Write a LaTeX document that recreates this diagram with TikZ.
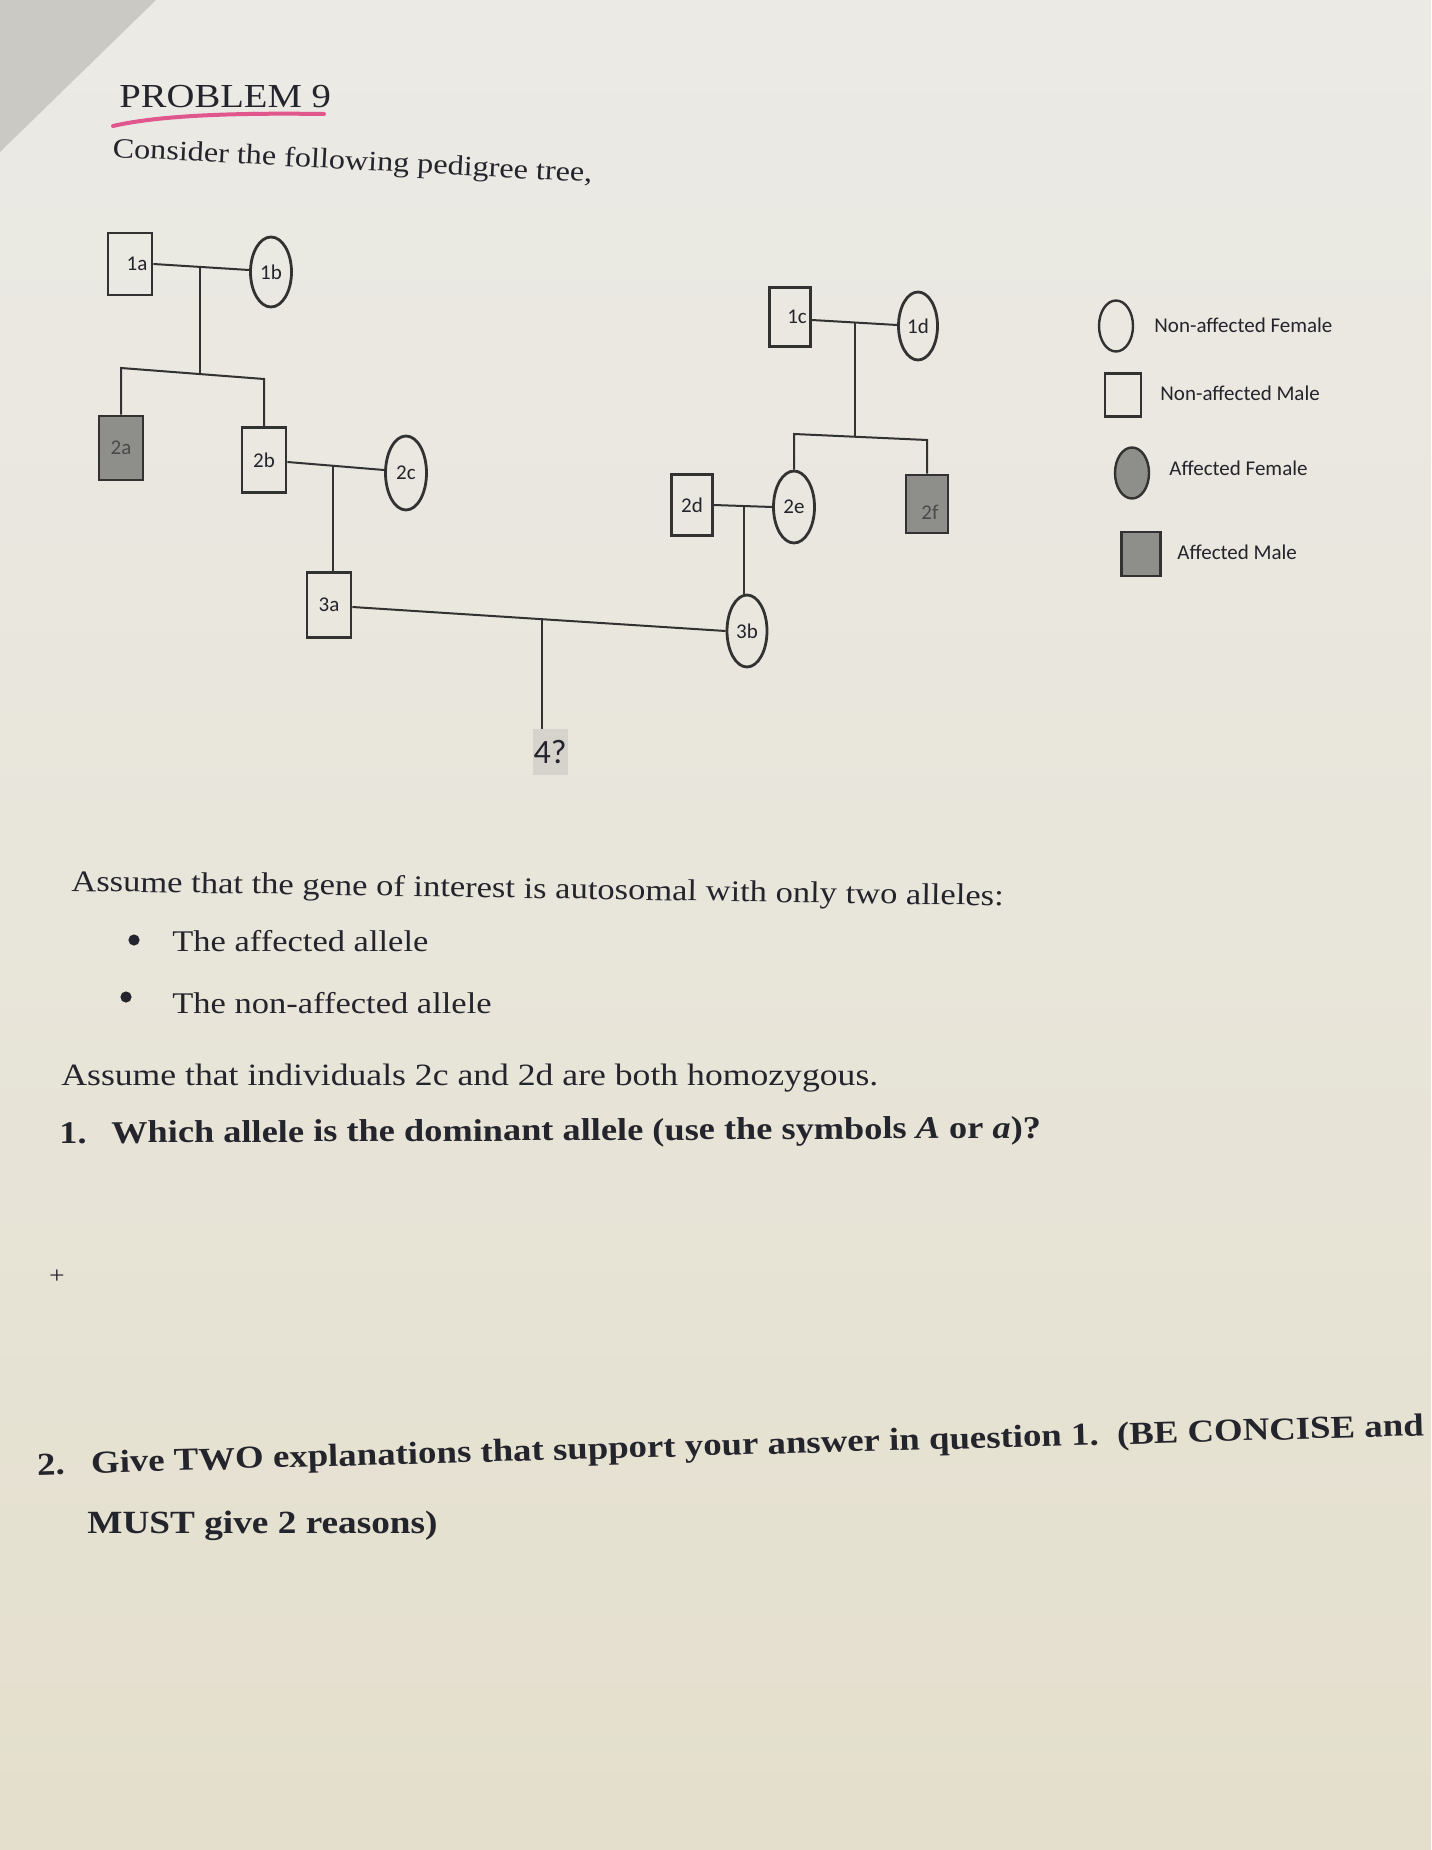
\documentclass[tikz,border=0pt]{standalone}
\usepackage{fontspec}
\setmainfont{Liberation Serif}[FakeStretch=1.15]
\newfontfamily\calib{Carlito}
\usetikzlibrary{shapes.geometric}
\definecolor{paperT}{HTML}{EBEAE5}
\definecolor{paperM}{HTML}{E8E5DA}
\definecolor{paperB}{HTML}{E4DFCC}
\definecolor{cornerc}{HTML}{CBC9C4}
\definecolor{ink}{HTML}{24242C}
\definecolor{linec}{HTML}{323232}
\definecolor{affc}{HTML}{8E8E8B}
\definecolor{affink}{HTML}{4A4A4A}
\definecolor{qbg}{HTML}{D5D3CC}
\definecolor{pinkc}{HTML}{E0578E}
\tikzset{
  txt/.style={inner sep=0pt, text=ink, anchor=base west},
  lbl/.style={font=\calib\fontsize{10.5pt}{12pt}\selectfont, text=ink},
  male/.style={rectangle, draw=linec, line width=1.4pt, minimum width=22pt, minimum height=31pt, inner sep=0pt, lbl},
  female/.style={ellipse, draw=linec, line width=1.4pt, minimum width=20.5pt, minimum height=36pt, inner sep=0pt, lbl},
  affected/.style={fill=affc, text=affink},
  rel/.style={draw=linec, line width=1pt},
  legsym/.style={draw=linec, line width=1.2pt, inner sep=0pt},
  legtxt/.style={anchor=west, inner sep=0pt, lbl},
  body/.style={font=\fontsize{15pt}{18pt}\selectfont},
  bodyb/.style={font=\bfseries\fontsize{15.8pt}{18pt}\selectfont},
}
\begin{document}
\begin{tikzpicture}[x=0.5pt,y=-0.5pt]
\useasboundingbox (0,0) rectangle (1431,1850);
% paper
\shade[top color=paperT, bottom color=paperB, middle color=paperM] (0,0) rectangle (1431,1850);
\fill[cornerc] (0,0) -- (156,0) -- (0,152) -- cycle;

% title
\node[txt, font=\fontsize{16.8pt}{20pt}\selectfont] (title) at (119,108) {PROBLEM 9};
\draw[pinkc, line width=2pt, line cap=round] (113,126) .. controls (165,114) and (250,113) .. (324,114);
\node[txt, font=\fontsize{14pt}{17pt}\selectfont, rotate=-3] (intro) at (112,157) {Consider the following pedigree tree,};

% pedigree individuals
\node[male] (p1a) at (130,264) {\hspace*{7pt}1a};
\node[female, minimum height=35pt] (p1b) at (271,272) {1b};
\node[male, affected, minimum height=32pt] (p2a) at (121,448) {2a};
\node[male, minimum height=32.5pt] (p2b) at (264,460) {2b};
\node[female, minimum height=37pt] (p2c) at (406,473) {2c};
\node[male, minimum height=32.5pt] (p3a) at (329,605) {3a};
\node[male, minimum width=20.5pt, minimum height=29.5pt] (p1c) at (790,317) {\hspace*{7pt}1c};
\node[female, minimum width=19.5pt, minimum height=34pt] (p1d) at (918,326) {1d};
\node[male, minimum width=20.5pt, minimum height=30.5pt] (p2d) at (692,505) {2d};
\node[female] (p2e) at (794,507) {2e};
\node[male, affected, minimum width=21pt, minimum height=29pt,
      label={[lbl, text=affink, xshift=1.5pt, yshift=-4pt]center:2f}] (p2f) at (927,504) {};
\node[female, minimum width=20pt] (p3b) at (747,631) {3b};
\node[fill=qbg, minimum width=17.5pt, minimum height=23pt, inner sep=0pt,
      font=\calib\fontsize{17pt}{19pt}\selectfont, text=ink] (q) at (550,752) {4?};

% junction points
\coordinate (m1) at (200,267);
\coordinate (s1) at (200,374);
\coordinate (s1L) at (121,368);
\coordinate (s1R) at (264,379);
\coordinate (m2) at (333,466);
\coordinate (m3) at (542,619);
\coordinate (m4) at (855,322.5);
\coordinate (s2) at (855,437);
\coordinate (s2L) at (794,434);
\coordinate (s2R) at (927,440);
\coordinate (m5) at (744,506);

% connectors
\draw[rel] (p1a.east) -- ([yshift=1pt]p1b.west);
\draw[rel] (m1) -- (s1);
\draw[rel] (p2a.north) -- (s1L) -- (s1R) -- (p2b.north);
\draw[rel] ([yshift=-1pt]p2b.east) -- ([yshift=1.5pt]p2c.west);
\draw[rel] (m2) -- (m2 |- p3a.north);
\draw[rel] ([yshift=-1pt]p3a.east) -- (p3b.west);
\draw[rel] (m3) -- (m3 |- q.north);
\draw[rel] ([yshift=-1.5pt]p1c.east) -- ([yshift=0.5pt]p1d.west);
\draw[rel] (m4) -- (s2);
\draw[rel] (p2e.north) -- (s2L) -- (s2R) -- (p2f.north);
\draw[rel] (p2d.east) -- (p2e.west);
\draw[rel] (m5) -- (m5 |- p3b.north);

% legend
\node[legsym, ellipse, minimum width=17pt, minimum height=25.5pt] (lg1) at (1116,326) {};
\node[legtxt] (lg1t) at (1154,325) {Non-affected Female};
\node[legsym, rectangle, minimum width=18pt, minimum height=21.5pt] (lg2) at (1123,395) {};
\node[legtxt] (lg2t) at (1160,393) {Non-affected Male};
\node[legsym, ellipse, fill=affc, minimum width=17pt, minimum height=25.5pt] (lg3) at (1132,473) {};
\node[legtxt] (lg3t) at (1169,468) {Affected Female};
\node[legsym, rectangle, fill=affc, minimum width=19.5pt, minimum height=22pt] (lg4) at (1141,554) {};
\node[legtxt] (lg4t) at (1177,552) {Affected Male};

% body text
\node[txt, body, rotate=-0.9] (as1) at (71,891) {Assume that the gene of interest is autosomal with only two alleles:};
\fill[ink] (134,940) circle (2.8pt);
\node[txt, body] (b1) at (172,951) {The affected allele};
\fill[ink] (126,997) circle (2.8pt);
\node[txt, body] (b2) at (172,1013) {The non-affected allele};
\node[txt, font=\fontsize{15.5pt}{18pt}\selectfont] (as2) at (61,1085) {Assume that individuals 2c and 2d are both homozygous.};
\node[txt, bodyb] (q1n) at (59,1143) {1.};
\node[txt, bodyb, rotate=0.3] (q1) at (111,1143) {Which allele is the dominant allele (use the symbols \textit{A} or \textit{a})?};
\node[inner sep=0pt, text=ink, font=\fontsize{12pt}{14pt}\selectfont] (plus) at (57,1277) {+};
\node[txt, font=\bfseries\fontsize{16pt}{19pt}\selectfont, rotate=1.6] (q2n) at (37,1475) {2.};
\node[txt, font=\bfseries\fontsize{16pt}{19pt}\selectfont, rotate=1.6] (q2) at (91,1473) {Give TWO explanations that support your answer in question 1.\ \ (BE CONCISE and};
\node[txt, font=\bfseries\fontsize{16.2pt}{19pt}\selectfont] (q2b) at (87,1533) {MUST give 2 reasons)};
\end{tikzpicture}
\end{document}
